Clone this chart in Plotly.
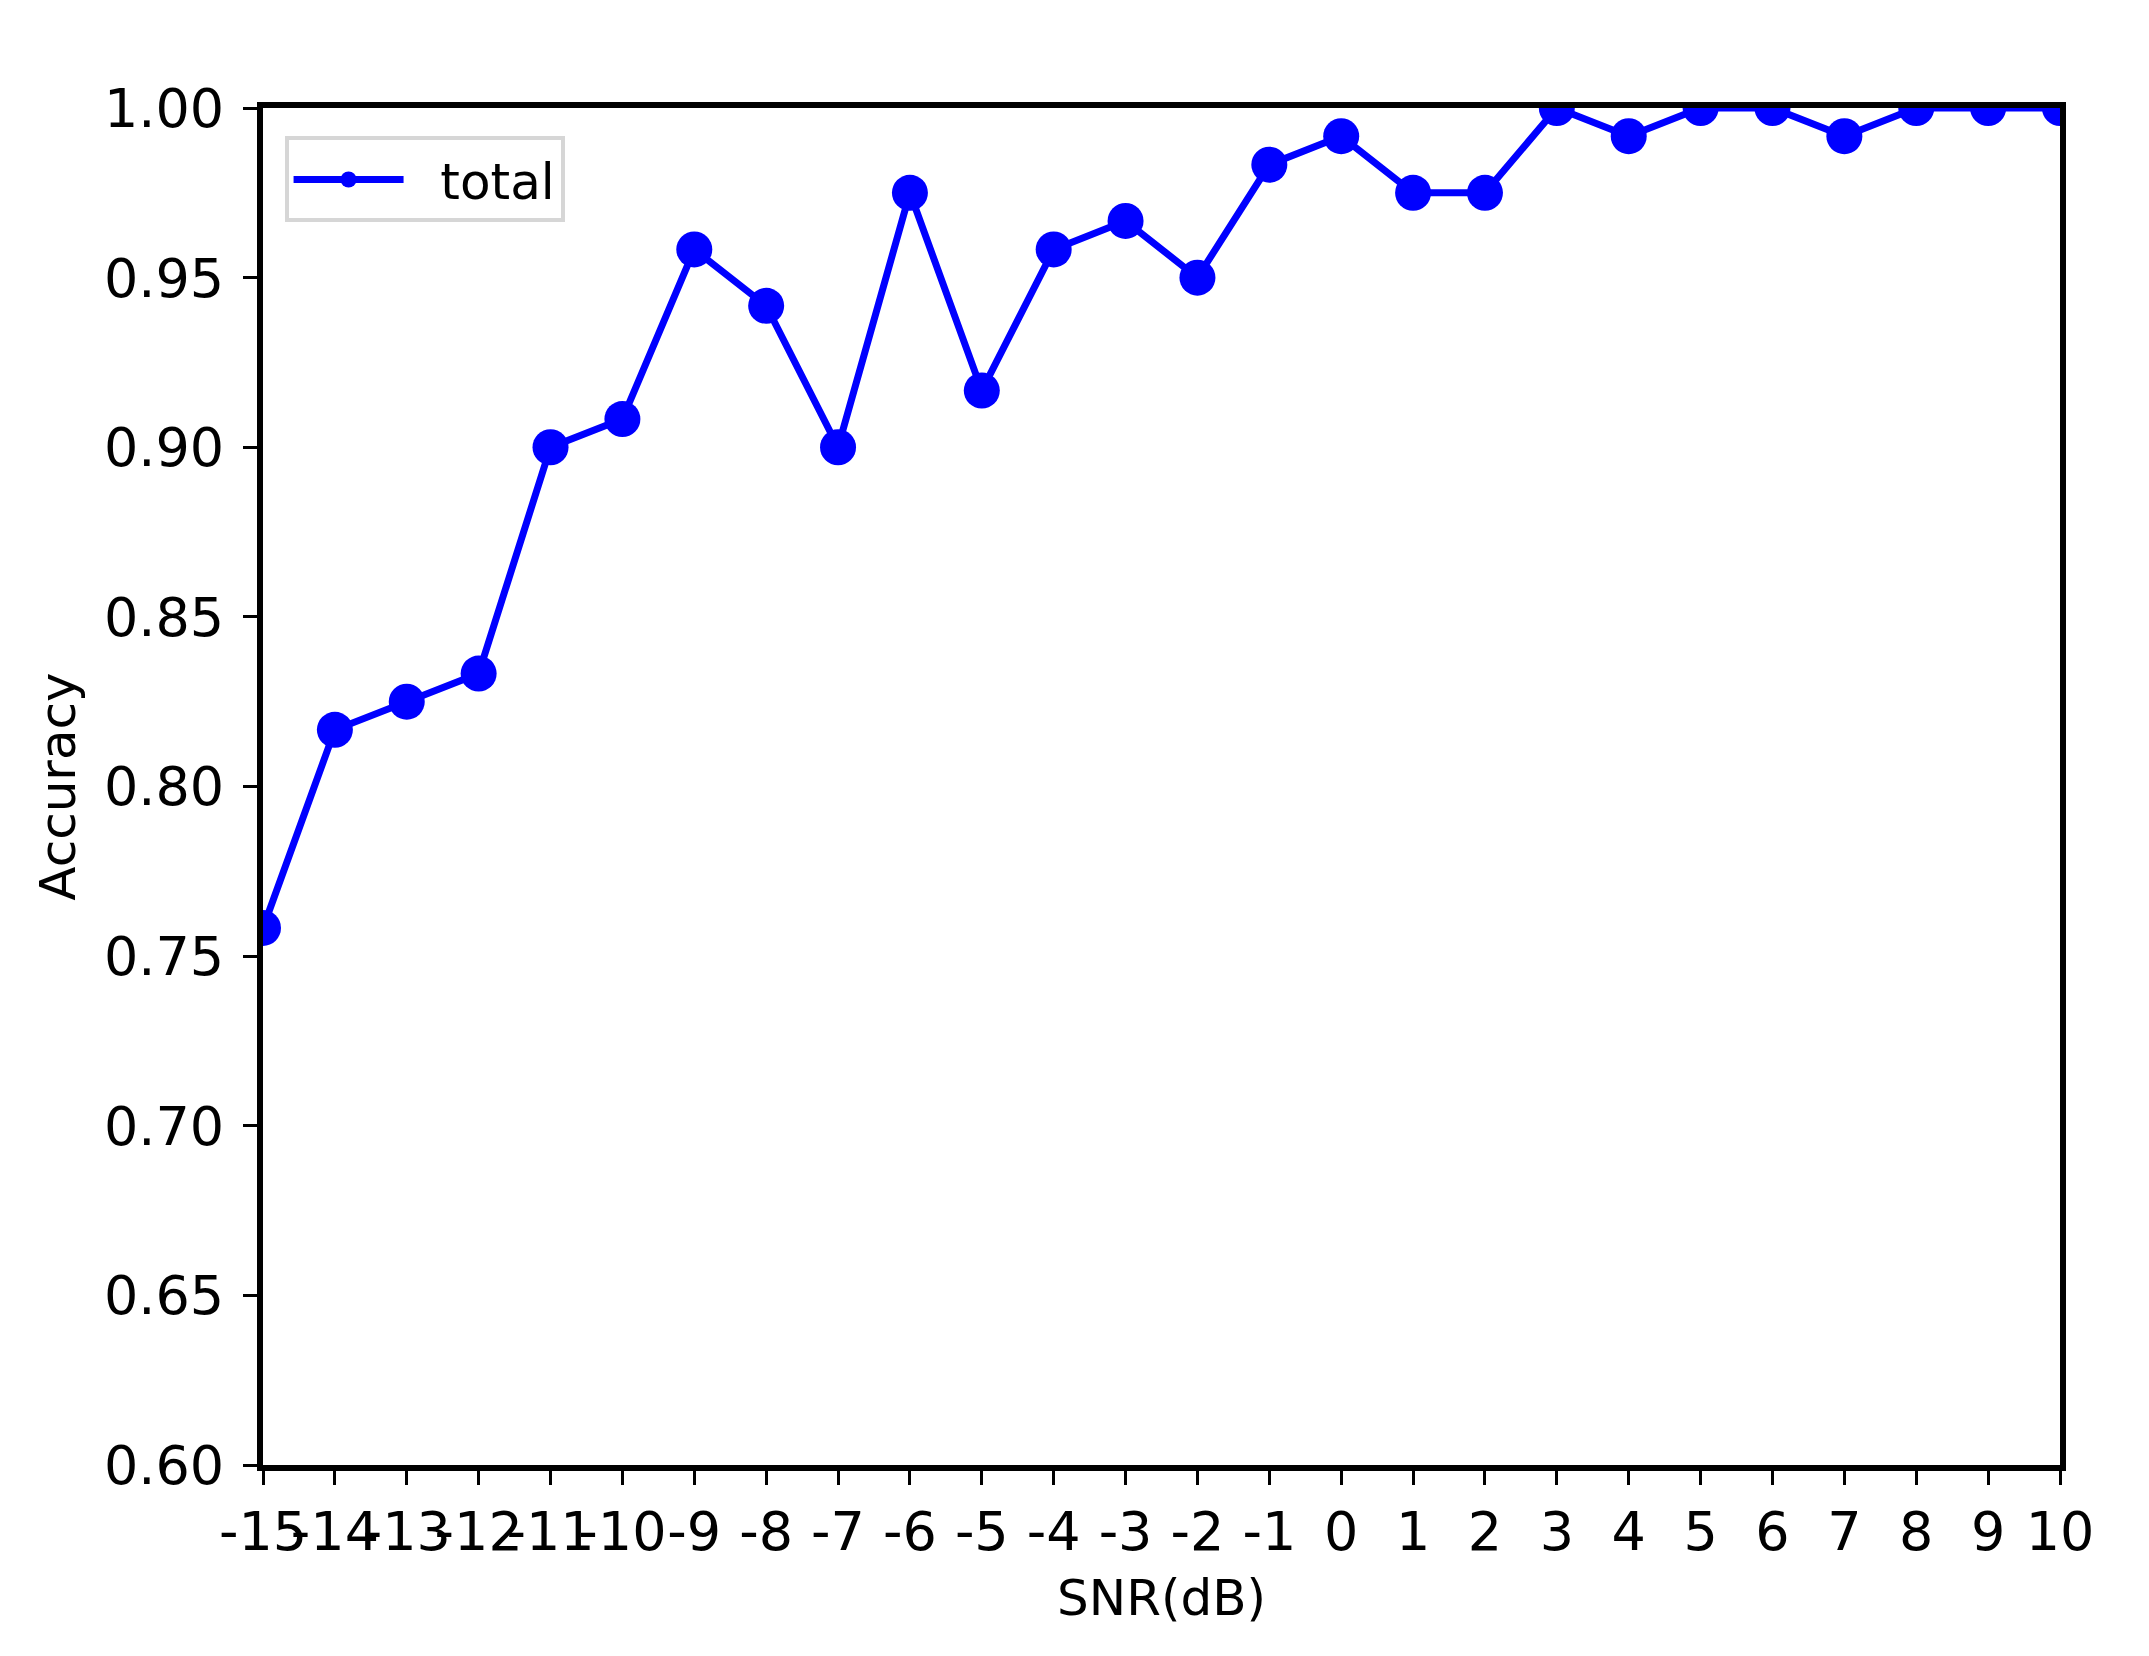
import plotly.graph_objects as go

snr = list(range(-15, 11))
snr_labels = [str(v) for v in snr]  # plain hyphen-minus, as in the reference
accuracy = [0.7583, 0.8167, 0.825, 0.8333, 0.9, 0.9083, 0.9583, 0.9417, 0.9, 0.975,
            0.9167, 0.9583, 0.9667, 0.95, 0.9833, 0.9917, 0.975, 0.975, 1.0, 0.9917,
            1.0, 1.0, 0.9917, 1.0, 1.0, 1.0]
y_ticks = [0.60, 0.65, 0.70, 0.75, 0.80, 0.85, 0.90, 0.95, 1.00]
y_tick_labels = ["0.60", "0.65", "0.70", "0.75", "0.80", "0.85", "0.90", "0.95", "1.00"]
series_name = "total"
x_title = "SNR(dB)"
y_title = "Accuracy"

FONT = "DejaVu Sans"

fig = go.Figure()
fig.add_trace(go.Scatter(
    x=snr, y=accuracy, mode="lines+markers",
    name="\u00a0\u00a0" + series_name,
    line=dict(color="#0000ff", width=7),
    marker=dict(color="#0000ff", size=36),
    cliponaxis=True,
))

fig.update_layout(
    width=2149, height=1656,
    margin=dict(l=255, r=97, t=100, b=199),
    paper_bgcolor="white", plot_bgcolor="white",
    font=dict(family=FONT, size=54, color="black"),
    showlegend=True,
    legend=dict(
        x=0.012, y=0.979, xanchor="left", yanchor="top",
        bgcolor="white", bordercolor="#d6d6d6", borderwidth=4,
        font=dict(family=FONT, size=50, color="black"),
        itemwidth=110,
    ),
    xaxis=dict(
        range=[-15, 10], tickmode="array", tickvals=snr, ticktext=snr_labels, tickangle=0,
        showline=True, mirror=True, linecolor="black", linewidth=6,
        ticks="outside", ticklen=14, tickwidth=3, tickcolor="black",
        showgrid=False, zeroline=False,
        tickfont=dict(family=FONT, size=54),
        title=dict(text=x_title, font=dict(family=FONT, size=50), standoff=20),
    ),
    yaxis=dict(
        range=[0.6, 1.0], tickmode="array", tickvals=y_ticks, ticktext=y_tick_labels,
        showline=True, mirror=True, linecolor="black", linewidth=6,
        ticks="outside", ticklen=14, tickwidth=3, tickcolor="black",
        showgrid=False, zeroline=False, ticklabelstandoff=8,
        tickfont=dict(family=FONT, size=54),
        title=dict(text=y_title, font=dict(family=FONT, size=50), standoff=14),
    ),
)

fig.write_html("out.html")
